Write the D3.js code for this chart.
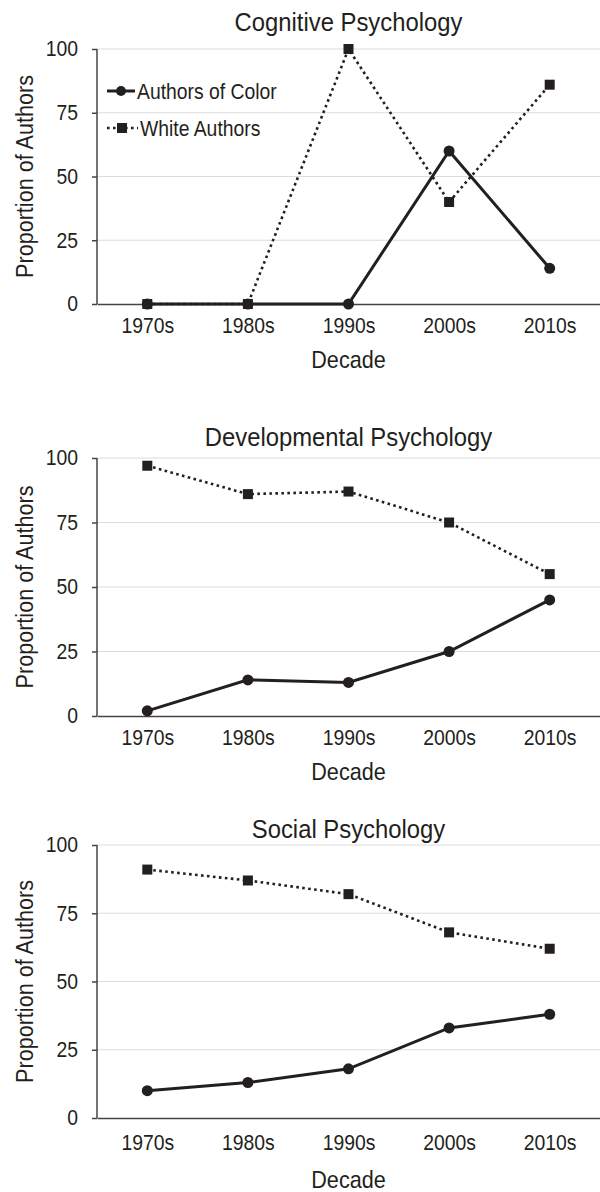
<!DOCTYPE html>
<html>
<head>
<meta charset="utf-8">
<script src="https://cdn.jsdelivr.net/npm/d3@7"></script>
<style>
  body { margin: 0; background: #fff; }
  text { font-family: "Liberation Sans", Arial, sans-serif; fill: #231f20; }
</style>
</head>
<body>
<script>
// Chart data
var decades = ["1970s", "1980s", "1990s", "2000s", "2010s"];
var yTicks = [0, 25, 50, 75, 100];
var seriesNames = ["Authors of Color", "White Authors"];
var panelTitles = ["Cognitive Psychology", "Developmental Psychology", "Social Psychology"];

var cognitiveColor = [0, 0, 0, 60, 14];
var cognitiveWhite = [0, 0, 100, 40, 86];
var developmentalColor = [2, 14, 13, 25, 45];
var developmentalWhite = [97, 86, 87, 75, 55];
var socialColor = [10, 13, 18, 33, 38];
var socialWhite = [91, 87, 82, 68, 62];

var svgWidth = 600;
var svgHeight = 1192;
var ink = "#231f20";
// the reference uses a condensed face, so squeeze Liberation Sans a bit
var squeeze = 0.9;

// layout for each panel
var panels = [
  { title: panelTitles[0], color: cognitiveColor, white: cognitiveWhite,
    top: 49, bottom: 304, titleY: 31, tickY: 333, labelY: 368, legend: true },
  { title: panelTitles[1], color: developmentalColor, white: developmentalWhite,
    top: 458, bottom: 716, titleY: 446, tickY: 745, labelY: 780, legend: false },
  { title: panelTitles[2], color: socialColor, white: socialWhite,
    top: 845, bottom: 1118, titleY: 838, tickY: 1150, labelY: 1188, legend: false }
];

var left = 97;
var right = 600;

var svg = d3.select("body")
  .append("svg")
  .attr("width", svgWidth)
  .attr("height", svgHeight);

var x = d3.scalePoint()
  .domain(decades)
  .range([left, right])
  .padding(0.5);

// helper for squeezed text
function addText(parent, tx, ty, str, size, anchor, rot) {
  return parent.append("text")
    .attr("transform", `translate(${tx}, ${ty}) rotate(${rot || 0}) scale(${squeeze}, 1)`)
    .attr("text-anchor", anchor || "start")
    .style("font-size", size + "px")
    .text(str);
}

panels.forEach(function(p) {
  var g = svg.append("g");

  var y = d3.scaleLinear()
    .domain([0, 100])
    .range([p.bottom, p.top]);

  // gridlines
  g.selectAll(".grid")
    .data(yTicks.filter(d => d > 0))
    .enter()
    .append("line")
    .attr("x1", left)
    .attr("x2", right)
    .attr("y1", d => y(d))
    .attr("y2", d => y(d))
    .attr("stroke", "#dcdcdc")
    .attr("stroke-width", 1.2);

  // y axis
  var leftAxis = d3.axisLeft(y)
    .tickValues(yTicks)
    .tickSize(5)
    .tickPadding(14);

  var yAxis = g.append("g")
    .attr("transform", `translate(${left}, 0)`)
    .call(leftAxis);
  yAxis.select(".domain").attr("stroke", "#444").attr("stroke-width", 1.5)
    .attr("d", `M0,${p.top}V${p.bottom}`);
  yAxis.selectAll(".tick line").attr("stroke", "#444").attr("stroke-width", 1.5);
  yAxis.selectAll(".tick text")
    .attr("x", 0)
    .attr("transform", `translate(-19, 0) scale(${squeeze}, 1)`)
    .style("font-size", "21.5px")
    .attr("fill", ink);

  // x axis
  var bottomAxis = d3.axisBottom(x).tickSize(0).tickPadding(0);
  var xAxis = g.append("g")
    .attr("transform", `translate(0, ${p.bottom})`)
    .call(bottomAxis);
  xAxis.select(".domain").attr("stroke", "#444").attr("stroke-width", 1.5);
  xAxis.selectAll(".tick text")
    .attr("y", 0)
    .attr("dy", 0)
    .attr("transform", `translate(0, ${p.tickY - p.bottom}) scale(${squeeze}, 1)`)
    .style("font-size", "21.5px")
    .attr("fill", ink);

  // titles and axis labels
  addText(g, x("1990s"), p.titleY, p.title, 26.5, "middle");
  addText(g, x("1990s"), p.labelY, "Decade", 24, "middle");
  addText(g, 33, (p.top + p.bottom) / 2, "Proportion of Authors", 24, "middle", -90);

  var line = d3.line()
    .x((d, i) => x(decades[i]))
    .y(d => y(d));

  // white authors: dotted with squares
  g.append("path")
    .datum(p.white)
    .attr("d", line)
    .attr("fill", "none")
    .attr("stroke", ink)
    .attr("stroke-width", 2.6)
    .attr("stroke-dasharray", "2.6,3.4");

  g.selectAll(".sq")
    .data(p.white)
    .enter()
    .append("rect")
    .attr("x", (d, i) => x(decades[i]) - 5)
    .attr("y", d => y(d) - 5)
    .attr("width", 10)
    .attr("height", 10)
    .attr("fill", ink);

  // authors of color: solid with circles
  g.append("path")
    .datum(p.color)
    .attr("d", line)
    .attr("fill", "none")
    .attr("stroke", ink)
    .attr("stroke-width", 3);

  g.selectAll(".dot")
    .data(p.color)
    .enter()
    .append("circle")
    .attr("cx", (d, i) => x(decades[i]))
    .attr("cy", d => y(d))
    .attr("r", 5.5)
    .attr("fill", ink);

  if (p.legend) {
    var lg = g.append("g");
    // authors of color
    lg.append("line")
      .attr("x1", 107).attr("x2", 135)
      .attr("y1", 91).attr("y2", 91)
      .attr("stroke", ink).attr("stroke-width", 3);
    lg.append("circle")
      .attr("cx", 121).attr("cy", 91).attr("r", 5)
      .attr("fill", ink);
    addText(lg, 137, 98.5, seriesNames[0], 21.5);
    // white authors
    lg.append("line")
      .attr("x1", 107).attr("x2", 138)
      .attr("y1", 128).attr("y2", 128)
      .attr("stroke", ink).attr("stroke-width", 2.6)
      .attr("stroke-dasharray", "2.6,3.4");
    lg.append("rect")
      .attr("x", 117).attr("y", 123).attr("width", 10).attr("height", 10)
      .attr("fill", ink);
    addText(lg, 140, 135.5, seriesNames[1], 21.5);
  }
});
</script>
</body>
</html>
